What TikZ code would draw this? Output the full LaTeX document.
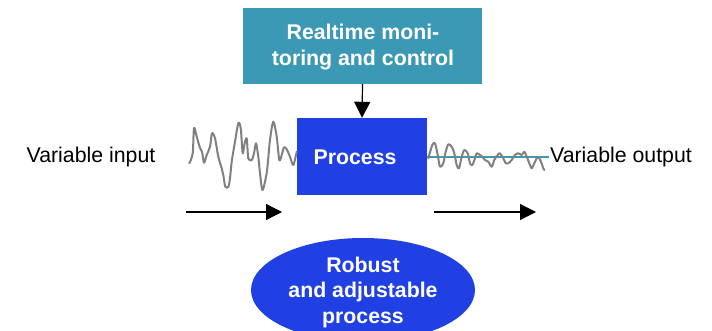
\documentclass[tikz,border=0pt]{standalone}
\usepackage{fontspec}
\setmainfont{Liberation Sans}
\usetikzlibrary{arrows.meta,shapes.geometric}
\definecolor{tealbox}{RGB}{60,153,181}
\definecolor{procblue}{RGB}{32,64,228}
\definecolor{wavegray}{RGB}{128,128,128}
\begin{document}
\begin{tikzpicture}[x=1pt,y=-1pt,
  txt/.style={font=\fontsize{21.3}{25.5}\selectfont, inner sep=0pt, align=center},
  btxt/.style={txt, font=\fontsize{21.3}{25.5}\selectfont\bfseries, text=white},
  arr/.style={-{Triangle[length=16pt,width=16pt]}, line width=1.2pt, black},
  wave/.style={wavegray, line width=2pt, line join=round, line cap=round}]
\useasboundingbox (0,0) rectangle (712,331);
\begin{scope}
\clip (0,0) rectangle (712,331);
\node[ellipse, fill=procblue, minimum width=224pt, minimum height=104pt, inner sep=0pt] (robust) at (363,290) {};
\end{scope}
\node[btxt] (robusttxt) at (363,292) {Robust\\and adjustable\\process};
\node[fill=tealbox, minimum width=239pt, minimum height=76pt, inner sep=0pt] (monitor) at (362.5,46) {};
\node[btxt] (monitortxt) at (363,47) {Realtime moni-\\toring and control};
\node[fill=procblue, minimum width=130pt, minimum height=77pt, inner sep=0pt] (process) at (362,156.5) {};
\node[btxt] (processtxt) at (355,157) {Process};
\node[txt] (input) at (91,157) {Variable input};
\node[txt] (output) at (621,157) {Variable output};
\draw[arr] (monitor.south) -- (process.north);
\coordinate (a1) at (186,212);
\coordinate (a2) at (282,212);
\coordinate (b1) at (434,212);
\coordinate (b2) at (536,212);
\draw[arr] (a1) -- (a2);
\draw[arr] (b1) -- (b2);
\draw[wave] plot[smooth, tension=0.5] coordinates {
(189.3,163.3) (192.7,153.3) (194,128) (196.7,136.7) (200,148) (202,151.7)
(204,162.7) (206.7,155) (210,146.7) (212,133.3) (215,138.3) (218.3,156.7)
(221.7,168.3) (223.3,175) (225.3,186.7) (228.3,186.7) (230,178.3) (231.7,161.7)
(235,141.7) (238.3,123.3) (240.7,128.3) (242.7,153.3) (244.3,145) (246.7,138.3)
(248.3,158.3) (251.7,160) (254,153.3) (256,143.3) (258.3,156.7) (260,173.3)
(262.3,190) (265,181.7) (267.3,168.3) (270,140) (273.3,121.7) (276.7,136.7)
(279.3,160) (281.7,155) (284,147.3) (286.7,149.3) (290,156.7) (293.3,165)
(296.7,151.7)};
\draw[tealbox, line width=2pt] (process.east |- 0,157) -- (549,157);
\draw[wave] plot[smooth, tension=0.5] coordinates {
(428.3,158.3) (432.3,145) (435,143.3) (437.7,155) (440,166.7) (443.3,163.3)
(445.7,151.7) (448.3,144.3) (451.7,146.7) (454.3,153.3) (456.7,165) (459,168.3)
(461.7,156.7) (464.3,150) (467.7,153.3) (470,163.3) (472.3,165) (475,158.3)
(476.7,153.3) (480,155) (482.3,156.7) (485,160) (488.3,161.7) (491.7,166.7)
(494.3,160) (497.7,155) (500,153.3) (503.3,158.3) (505.7,163.3) (508.3,163.3)
(511.7,160) (515,155) (518.3,153.3) (521.7,155) (524.3,151.7) (526.7,156.7)
(530,165) (531.7,168.3) (534.3,163.3) (536.7,158.3) (538.3,156.7) (541,161.7)
(543.3,168.3) (544.3,170)};
\end{tikzpicture}
\end{document}
